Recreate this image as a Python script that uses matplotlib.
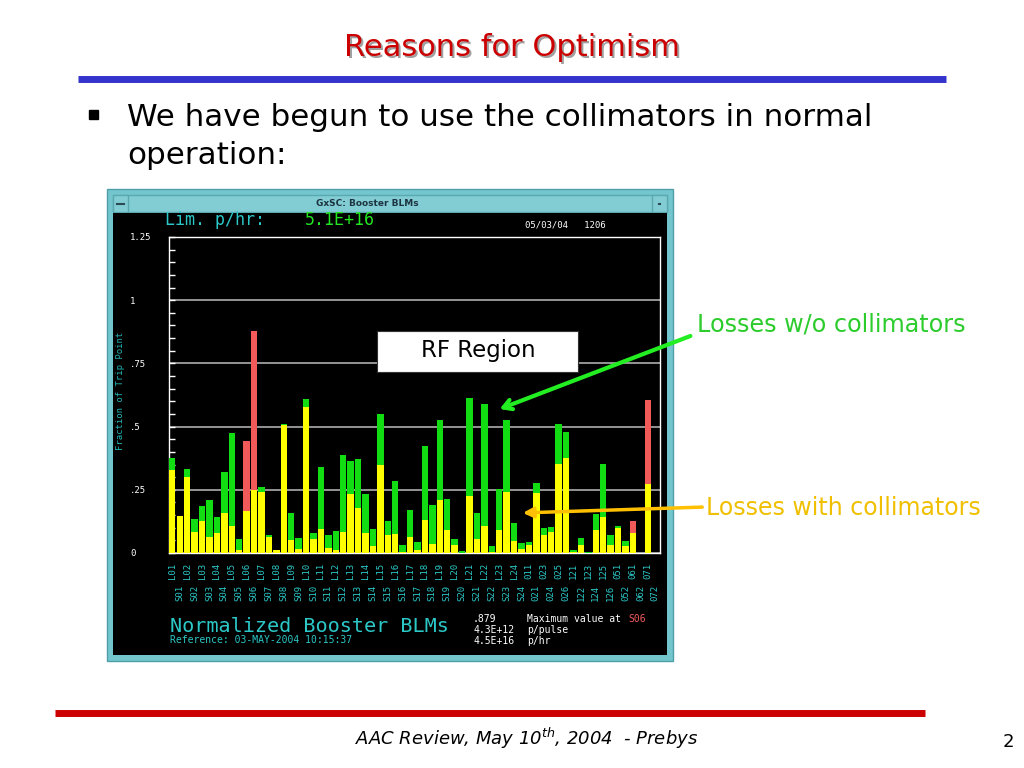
import numpy as np
import matplotlib.pyplot as plt
from matplotlib.patches import Rectangle

# BLM names, in the order they sit along the ring
labels = ['L01', 'S01', 'L02', 'S02', 'L03', 'S03', 'L04', 'S04', 'L05', 'S05',
          'L06', 'S06', 'L07', 'S07', 'L08', 'S08', 'L09', 'S09', 'L10', 'S10',
          'L11', 'S11', 'L12', 'S12', 'L13', 'S13', 'L14', 'S14', 'L15', 'S15',
          'L16', 'S16', 'L17', 'S17', 'L18', 'S18', 'L19', 'S19', 'L20', 'S20',
          'L21', 'S21', 'L22', 'S22', 'L23', 'S23', 'L24', 'S24',
          '011', '021', '023', '024', '025', '026', '121', '122', '123', '124',
          '125', '126', '051', '052', '061', '062', '071', '072']

# fraction of trip point, losses without collimators (full bar height)
without_coll = [0.377, 0.147, 0.333, 0.134, 0.186, 0.210, 0.143, 0.320, 0.475, 0.057,
                0.444, 0.879, 0.263, 0.071, 0.012, 0.512, 0.160, 0.061, 0.611, 0.078,
                0.341, 0.071, 0.087, 0.386, 0.365, 0.373, 0.234, 0.095, 0.548, 0.127,
                0.283, 0.030, 0.170, 0.045, 0.425, 0.190, 0.525, 0.214, 0.057, 0.009,
                0.615, 0.160, 0.591, 0.028, 0.254, 0.525, 0.118, 0.041,
                0.044, 0.277, 0.098, 0.102, 0.512, 0.479, 0.012, 0.058, 0.003, 0.155,
                0.352, 0.071, 0.107, 0.048, 0.127, 0.000, 0.607, 0.000]

# losses with collimators (yellow part)
with_coll = [0.330, 0.147, 0.300, 0.085, 0.127, 0.065, 0.079, 0.160, 0.106, 0.013,
             0.168, 0.250, 0.240, 0.062, 0.012, 0.508, 0.052, 0.016, 0.578, 0.054,
             0.095, 0.019, 0.012, 0.085, 0.233, 0.177, 0.078, 0.029, 0.349, 0.071,
             0.075, 0.003, 0.065, 0.012, 0.131, 0.036, 0.210, 0.091, 0.030, 0.000,
             0.226, 0.054, 0.105, 0.004, 0.091, 0.242, 0.049, 0.015,
             0.032, 0.237, 0.071, 0.085, 0.353, 0.376, 0.003, 0.032, 0.000, 0.091,
             0.144, 0.032, 0.098, 0.029, 0.078, 0.000, 0.274, 0.000]

red_blms = ['L06', 'S06', '061', '071']

YELLOW = '#ffff00'
GREEN = '#12dd12'
RED = '#f25a5a'
CYAN = '#2cc8c8'
TEAL = '#74c6ce'
MONO = 'DejaVu Sans Mono'

W, H = 1024, 768


def box(x0, y0, x1, y1):
    # pixel box (top-left origin) -> figure fraction rect
    return [x0 / W, 1 - y1 / H, (x1 - x0) / W, (y1 - y0) / H]


fig = plt.figure(figsize=(10.24, 7.68), dpi=100)

# ---- slide background + screenshot window, drawn in pixel units
bg = fig.add_axes([0, 0, 1, 1], zorder=0)
bg.set_xlim(0, W)
bg.set_ylim(H, 0)
bg.axis('off')

bg.plot([78, 946], [79, 79], color='#3434cc', lw=5, solid_capstyle='butt')
bg.plot([55, 925], [713, 713], color='#cc0000', lw=5, solid_capstyle='butt')
bg.text(514, 50, 'Reasons for Optimism', fontsize=22, color='#a0a0a0',
        ha='center', va='center')
bg.text(512, 48, 'Reasons for Optimism', fontsize=22, color='#cc0000',
        ha='center', va='center')
bg.add_patch(Rectangle((89, 110), 9, 9, color='black'))
bg.text(127, 117, 'We have begun to use the collimators in normal', fontsize=22.3,
        ha='left', va='center')
bg.text(127, 156, 'operation:', fontsize=22.3, ha='left', va='center')
bg.text(527, 738, r'AAC Review, May 10$^{\mathit{th}}$, 2004  - Prebys', fontsize=13,
        style='italic', ha='center', va='center')
bg.text(1008, 742, '2', fontsize=13, ha='center', va='center')

bg.add_patch(Rectangle((107, 189), 566, 472, facecolor=TEAL, edgecolor='#4f9ea8', lw=1))
bg.add_patch(Rectangle((113, 195), 554, 17, facecolor='#82ccd4', edgecolor='#5aa8b0', lw=1))
bg.add_patch(Rectangle((113, 195), 15, 17, facecolor='#82ccd4', edgecolor='#5aa8b0', lw=1))
bg.add_patch(Rectangle((652, 195), 15, 17, facecolor='#82ccd4', edgecolor='#5aa8b0', lw=1))
bg.plot([117, 124], [203.5, 203.5], color='#2a4a55', lw=1.5)
bg.plot([659, 660], [204, 204], color='#2a4a55', lw=1.5)
bg.text(367, 204, 'GxSC: Booster BLMs', fontsize=6.5, color='#1c3440',
        ha='center', va='center', fontweight='bold')
bg.add_patch(Rectangle((113, 213), 554, 442, facecolor='black'))

# ---- the BLM bar chart itself
ax = fig.add_axes(box(169.2, 237, 660, 553), zorder=1)
ax.set_facecolor('black')
x = np.arange(len(labels))
lower = np.array(with_coll)
upper = np.array(without_coll) - lower
top_cols = [RED if name in red_blms else GREEN for name in labels]
ax.bar(x, lower, width=0.86, color=YELLOW, linewidth=0, zorder=3)
ax.bar(x, upper, bottom=lower, width=0.86, color=top_cols, linewidth=0, zorder=3)

ax.set_xlim(-0.417, 65.64)
ax.set_ylim(0, 1.25)
yt = [0, 0.25, 0.5, 0.75, 1.0, 1.25]
ax.set_yticks(yt, labels=['0', '.25', '.5', '.75', '1', '1.25'])
ax.set_yticks(np.arange(0, 1.2501, 0.05), minor=True)
ax.grid(axis='y', which='major', color='#a0a0a0', lw=1.3, zorder=1)
ax.tick_params(axis='y', which='both', direction='in', length=4.5, width=1,
               color='white', labelcolor='white', labelsize=6.5, pad=28)
for t in ax.get_yticklabels():
    t.set_ha('left')
    t.set_family(MONO)

ax.set_xticks(x[0::2], labels=labels[0::2])
ax.set_xticks(x[1::2], labels=labels[1::2], minor=True)
ax.tick_params(axis='x', which='both', length=0, labelcolor=CYAN, labelsize=6.5,
               labelrotation=90)
ax.tick_params(axis='x', which='major', pad=7)
ax.tick_params(axis='x', which='minor', pad=23)
for t in ax.get_xticklabels(which='both'):
    t.set_family(MONO)
    t.set_va('top')

for s in ax.spines.values():
    s.set_color('white')
    s.set_linewidth(1)

ax.set_ylabel('Fraction of Trip Point', color='#22b4b4', fontsize=6.5, family=MONO)
ax.yaxis.set_label_coords(-0.09, 0.513)

# ---- screen texts and slide annotations on top
top = fig.add_axes([0, 0, 1, 1], zorder=2)
top.set_xlim(0, W)
top.set_ylim(H, 0)
top.axis('off')

top.text(165, 220, 'Lim. p/hr:', family=MONO, fontsize=12, color=CYAN, va='center')
top.text(305, 220, '5.1E+16', family=MONO, fontsize=12, color='#22e622', va='center')
top.text(525, 225, '05/03/04   1206', family=MONO, fontsize=6.5, color='white', va='center')

top.text(170, 626, 'Normalized Booster BLMs', family=MONO, fontsize=14.5, color=CYAN,
         va='center')
top.text(170, 640, 'Reference: 03-MAY-2004 10:15:37', family=MONO, fontsize=7,
         color=CYAN, va='center')
top.text(473, 619, '.879', family=MONO, fontsize=7, color='white', va='center')
top.text(473, 630, '4.3E+12', family=MONO, fontsize=7, color='white', va='center')
top.text(473, 641, '4.5E+16', family=MONO, fontsize=7, color='white', va='center')
top.text(527, 619, 'Maximum value at', family=MONO, fontsize=7, color='white', va='center')
top.text(628, 619, 'S06', family=MONO, fontsize=7, color=RED, va='center')
top.text(527, 630, 'p/pulse', family=MONO, fontsize=7, color='white', va='center')
top.text(527, 641, 'p/hr', family=MONO, fontsize=7, color='white', va='center')

top.add_patch(Rectangle((377, 331), 201, 41, facecolor='white', edgecolor='#333333', lw=0.8))
top.text(478, 351, 'RF Region', fontsize=16.5, ha='center', va='center')

top.text(697, 325, 'Losses w/o collimators', fontsize=17.2, color='#2ccc2c', va='center')
top.annotate('', xy=(497, 410), xytext=(693, 335),
             arrowprops=dict(arrowstyle='->,head_length=0.6,head_width=0.35',
                             color='#22ee22', lw=3))
top.text(706, 508, 'Losses with collimators', fontsize=17, color='#f0c000', va='center')
top.annotate('', xy=(520, 513), xytext=(705, 507),
             arrowprops=dict(arrowstyle='-|>,head_length=0.6,head_width=0.3',
                             color='#ffc000', lw=2.5))

fig.savefig('out.png', dpi=100)
